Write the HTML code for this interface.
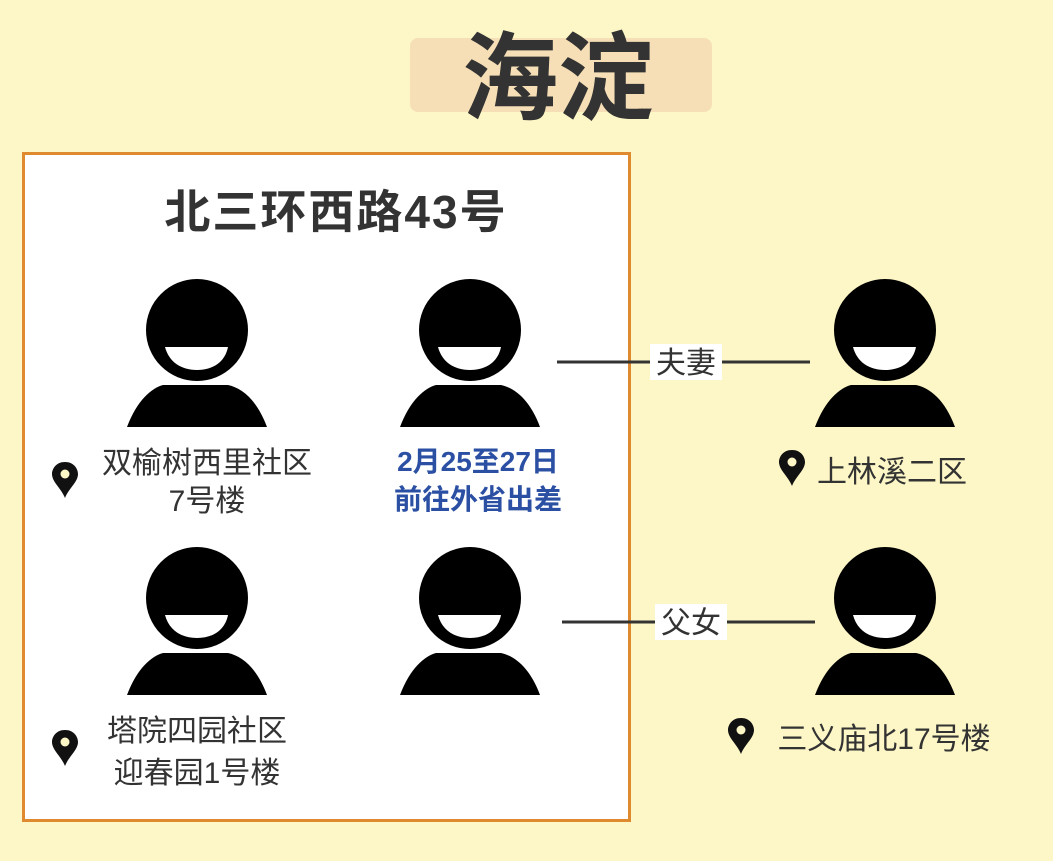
<!DOCTYPE html>
<html><head><meta charset="utf-8"><style>
body{margin:0;width:1053px;height:861px;background:#fdf7c7;overflow:hidden;font-family:"Liberation Sans","Noto Sans CJK SC",sans-serif;}
</style></head><body>
<svg width="1053" height="861" viewBox="0 0 1053 861" xmlns="http://www.w3.org/2000/svg" style="position:absolute;left:0;top:0">
<defs>
<g id="p">
<path d="M-70,97 C-60,70 -45,58 -34,55 L31,55 C45,58 60,70 70,97 Z" fill="#000"/>
<circle cx="0" cy="0" r="51" fill="#000"/>
<path d="M-32,17 L31,17 C28,32 16,40 0,40 C-16,40 -28,32 -32,17 Z" fill="#fff"/>
</g>
<g id="pin">
<path d="M0,-16 C-9,-16 -13,-9 -13,-4 C-13,4 -4,10 0,20 C4,10 13,4 13,-4 C13,-9 9,-16 0,-16 Z" fill="#111"/>
<circle cx="0" cy="-4" r="4.5" fill="#fdf7c7"/>
</g>
</defs>
<rect x="410" y="38" width="302" height="74" rx="8" fill="#f6dfb6"/>
<text x="558" y="112" font-size="96" font-weight="bold" fill="#333" text-anchor="middle" font-family="Noto Sans CJK SC,sans-serif">海淀</text>
<rect x="23.5" y="153.5" width="606" height="667" fill="#fff" stroke="#e08a30" stroke-width="3"/>
<text x="336" y="228" font-size="46" font-weight="bold" fill="#333" text-anchor="middle" letter-spacing="2">北三环西路43号</text>
<use href="#p" x="197" y="330"/>
<use href="#p" x="470" y="330"/>
<use href="#p" x="885" y="330"/>
<use href="#p" x="197" y="598"/>
<use href="#p" x="470" y="598"/>
<use href="#p" x="885" y="598"/>
<g font-size="30" fill="#333" text-anchor="middle">
<text x="207" y="473">双榆树西里社区</text>
<text x="207" y="511">7号楼</text>
<text x="197" y="741">塔院四园社区</text>
<text x="197" y="783">迎春园1号楼</text>
<text x="892" y="482">上林溪二区</text>
<text x="884" y="749">三义庙北17号楼</text>
</g>
<g font-size="28" font-weight="bold" fill="#2a4fa3" text-anchor="middle">
<text x="478" y="471">2月25至27日</text>
<text x="478" y="509">前往外省出差</text>
</g>
<use href="#pin" x="65" y="478"/>
<use href="#pin" x="65" y="746"/>
<use href="#pin" x="792" y="466"/>
<use href="#pin" x="741" y="734"/>
<line x1="557" y1="362" x2="810" y2="362" stroke="#333" stroke-width="3"/>
<line x1="562" y1="622" x2="815" y2="622" stroke="#333" stroke-width="3"/>
<rect x="650" y="344" width="72" height="36" fill="#fff"/>
<rect x="655" y="604" width="72" height="36" fill="#fff"/>
<g font-size="30" fill="#333" text-anchor="middle">
<text x="686" y="373">夫妻</text>
<text x="691" y="633">父女</text>
</g>
</svg>
</body></html>
